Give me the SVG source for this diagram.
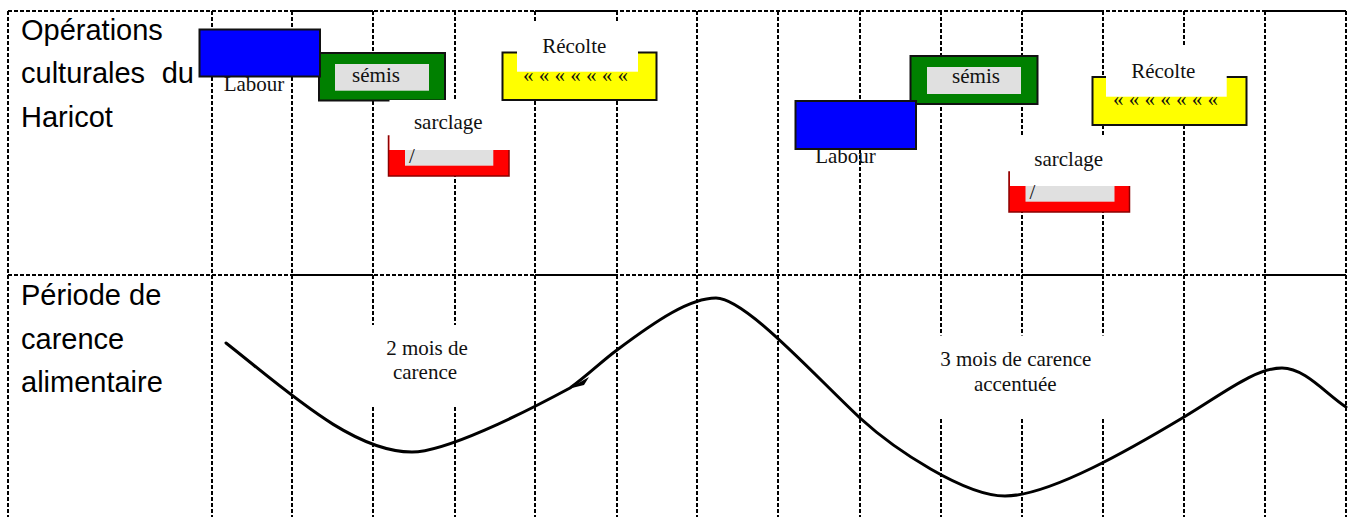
<svg xmlns="http://www.w3.org/2000/svg" width="1348" height="517" viewBox="0 0 1348 517">
<style>
.grid{stroke:#000;stroke-width:2;stroke-dasharray:4 2;fill:none}
.hsolid{stroke:#000;stroke-width:2;fill:none}
.sans{font-family:"Liberation Sans",Arial,sans-serif;font-size:29px;fill:#000}
.serif{font-family:"Liberation Serif","Times New Roman",serif;font-size:21px;fill:#111}
.mid{text-anchor:middle}
.box{stroke:#111;stroke-width:2}
.bg{fill:#fff;stroke:none}
.inner{fill:#e0e0e0;stroke:none}
.red{fill:#ff0000;stroke:#8b0000;stroke-width:1.5}
.curve{fill:none;stroke:#000;stroke-width:3;stroke-linecap:round;stroke-linejoin:round}
</style>
<rect width="1348" height="517" fill="#fff"/>
<g id="grid">
  <path class="grid" d="M8,11V517M212,11V517M292,11V517M373,11V517M455,11V517M535,11V517M617,11V517M697,11V517M778,11V517M860,11V517M941,11V517M1022,11V517M1103,11V517M1184,11V517M1265,11V517M1346,11V517"/>
  <path class="grid" d="M8,11H1346M8,275H1346"/>
  <path class="hsolid" d="M292,11H373M535,11H617M1022,11H1103M1265,11H1346M292,275H373M535,275H617M1022,275H1103M1265,275H1346"/>
</g>
<g id="row-labels">
  <text class="sans" x="21" y="40">Opérations</text>
  <text class="sans" x="21" y="83">culturales</text>
  <text class="sans" x="194" y="83" text-anchor="end">du</text>
  <text class="sans" x="21" y="126.5">Haricot</text>
  <text class="sans" x="21" y="304.5">Période de</text>
  <text class="sans" x="21" y="348.5">carence</text>
  <text class="sans" x="21" y="392">alimentaire</text>
</g>
<g id="semis-1">
  <rect class="box" x="319" y="53" width="126" height="47.5" fill="#008000"/>
  <rect class="inner" x="335" y="64" width="94" height="26.7"/>
  <text class="serif mid" x="376" y="82.3">sémis</text>
</g>
<g id="labour-1">
  <rect class="box" x="199.5" y="29.5" width="120.5" height="47" fill="#0000ff"/>
  <text class="serif mid" x="254" y="90.7">Labour</text>
</g>
<g id="sarclage-1">
  <rect class="red" x="388.5" y="136" width="120.5" height="40"/>
  <rect class="bg" x="389.5" y="100" width="121" height="50"/>
  <rect class="inner" x="405" y="150" width="88.3" height="15.7"/>
  <text class="serif" x="409" y="163">/</text>
  <text class="serif mid" x="448.3" y="129.3">sarclage</text>
</g>
<g id="recolte-1">
  <rect class="box" x="502.5" y="52.5" width="154" height="47.5" fill="#ffff00"/>
  <rect class="bg" x="517" y="22" width="121" height="49.7"/>
  <text class="serif mid" x="574.3" y="52.7">Récolte</text>
  <text class="serif" x="523" y="81.7">« « « « « « «</text>
</g>
<g id="semis-2">
  <rect class="box" x="910.5" y="56" width="127" height="48" fill="#008000"/>
  <rect class="inner" x="927" y="67" width="94" height="27"/>
  <text class="serif mid" x="976" y="82.7">sémis</text>
</g>
<g id="labour-2">
  <rect class="box" x="795.5" y="101" width="120.5" height="48" fill="#0000ff"/>
  <text class="serif mid" x="845.5" y="163.3">Labour</text>
</g>
<g id="sarclage-2">
  <rect class="red" x="1009" y="172" width="120.5" height="40"/>
  <rect class="bg" x="1010" y="136.5" width="121" height="49.5"/>
  <rect class="inner" x="1025.5" y="186" width="89" height="15.7"/>
  <text class="serif" x="1029.5" y="199">/</text>
  <text class="serif mid" x="1068.7" y="165.7">sarclage</text>
</g>
<g id="recolte-2">
  <rect class="box" x="1092.5" y="77" width="154" height="48" fill="#ffff00"/>
  <rect class="bg" x="1106" y="46.7" width="120.7" height="50"/>
  <text class="serif mid" x="1163.3" y="78.3">Récolte</text>
  <text class="serif" x="1113" y="106">« « « « « « «</text>
</g>
<g id="carence-2mois">
  <rect class="bg" x="366" y="325" width="104" height="81"/>
  <text class="serif mid" x="427" y="355">2 mois de</text>
  <text class="serif mid" x="425" y="379">carence</text>
</g>
<g id="carence-3mois">
  <rect class="bg" x="885" y="335.5" width="230" height="81.5"/>
  <text class="serif mid" x="1015.8" y="366">3 mois de carence</text>
  <text class="serif mid" x="1015.3" y="391">accentuée</text>
</g>
<g id="connectors">
  <path class="curve" d="M226,343 C286,390 352,452 412,452 C445,452 520,415 570,388 C588,375 602,361 617,350 C657,320 690,298 716,298 C745,298 815,376 860,418 C895,450 965,496 1005,496 C1050,496 1134,447 1184,417 C1224,393 1255,368 1282,368 C1305,368 1326,394 1346,407"/>
  <polygon points="568,389 589,377 584,385" fill="#000"/>
</g>
</svg>
